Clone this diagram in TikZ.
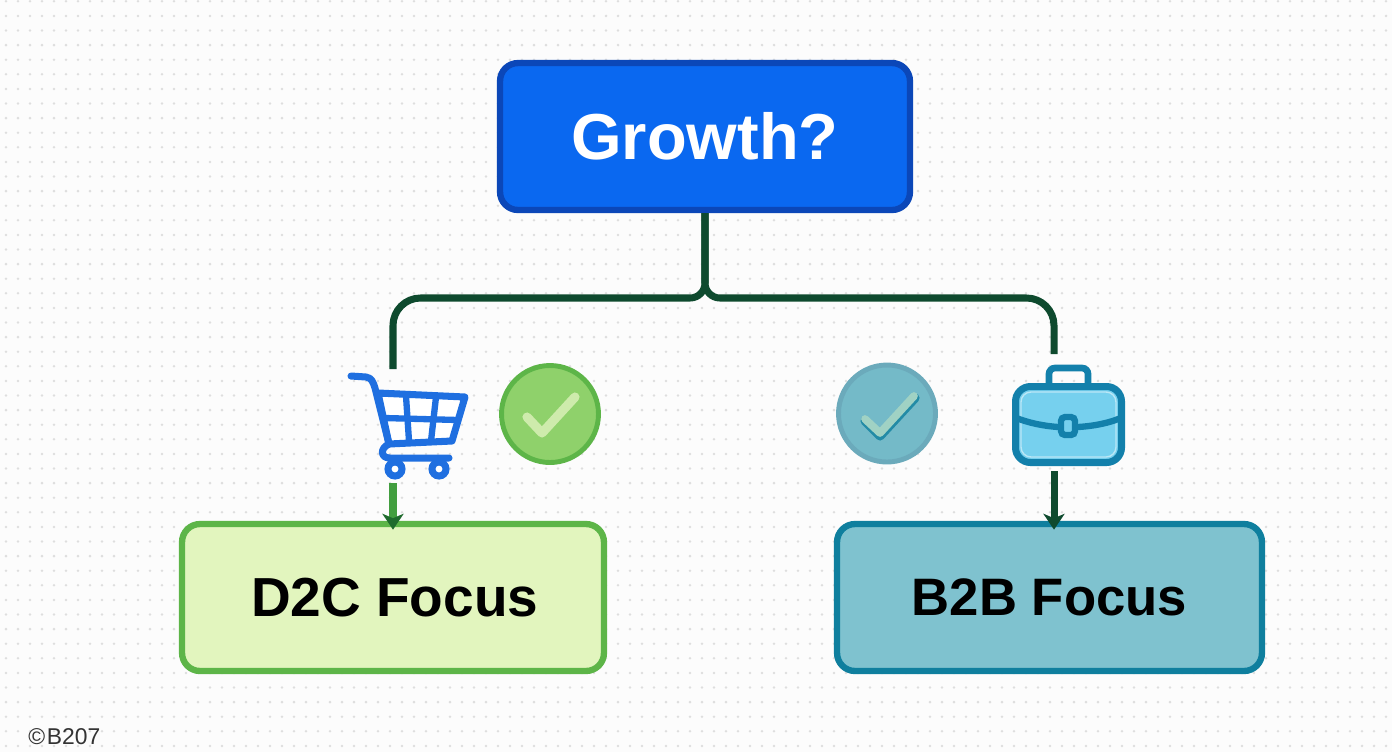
\documentclass[tikz,border=0pt]{standalone}
\usepackage{fontspec}
\setmainfont{Liberation Sans}
\usetikzlibrary{arrows.meta}
\definecolor{fond}{HTML}{FCFCFC}
\definecolor{point}{HTML}{DEDEDE}
\definecolor{bleu}{HTML}{0A68F0}
\definecolor{bleufonce}{HTML}{0B47B8}
\definecolor{panier}{HTML}{1F6FE0}
\definecolor{tronc}{HTML}{0E4A2E}
\definecolor{vertclair}{HTML}{E2F5BE}
\definecolor{vert}{HTML}{5DB548}
\definecolor{vertrond}{HTML}{8FD16B}
\definecolor{vertfleche}{HTML}{429E3F}
\definecolor{vertpointe}{HTML}{1F6B2D}
\definecolor{bleuvert}{HTML}{7FC2CF}
\definecolor{canard}{HTML}{0F7F9E}
\definecolor{rondb}{HTML}{74BAC8}
\definecolor{rondbord}{HTML}{6BAABB}
\definecolor{ciel}{HTML}{76D0EE}
\definecolor{mallette}{HTML}{1380AB}

\begin{document}
\begin{tikzpicture}[x=0.02cm, y=-0.02cm]
\tikzset{boite/.style={draw, rectangle, rounded corners=0.36cm, line width=3.6pt, minimum height=2.94cm},
  rond/.style={draw, circle, line width=2.8pt, minimum size=1.94cm},
  trait/.style={color=tronc, line width=4pt},
  coche/.style={line width=5.2pt, line cap=round, line join=round}}
\useasboundingbox (0, 0) rectangle (1392, 752);
\fill[fond] (0, 0) rectangle (1392, 752);
\foreach \i in {0,...,115}
  \foreach \j in {0,...,51}
    \fill[point] (6 + 12*\i, 1.3 + 14.6*\j) circle (1.4);

\node[boite, fill=bleu, draw=bleufonce, minimum width=8.2cm, text=white] (racine) at (705, 136.5) {\fontsize{37}{40}\selectfont\bfseries Growth?};
\node[boite, fill=vertclair, draw=vert, minimum width=8.44cm] (dtc) at (393, 597.5) {\kern2pt\fontsize{31.3}{36}\selectfont\bfseries D2C Focus};
\node[boite, fill=bleuvert, draw=canard, minimum width=8.5cm] (btb) at (1049.5, 597.5) {\fontsize{30}{36}\selectfont\bfseries B2B Focus};
\node[rond, fill=vertrond, draw=vert] (okd) at (550, 414) {};
\node[rond, fill=rondb, draw=rondbord] (okb) at (887, 413.5) {};
\node[anchor=west, inner sep=0pt, text=black!80] (copyr) at (28, 737) {\fontsize{13}{14}\selectfont ©\kern1pt B207};

\coordinate (fourche) at (705, 298);
\coordinate (panierh) at (393, 369);
\coordinate (panierb) at (393, 483);
\coordinate (malletteh) at (1054, 354);
\coordinate (malletteb) at (1054, 471);

\draw[trait] (racine.south) [rounded corners=0.3cm] -- (fourche) [rounded corners=0.55cm] -| (panierh);
\draw[trait] (racine.south) [rounded corners=0.3cm] -- (fourche) [rounded corners=0.55cm] -| (malletteh);
\draw[color=vertfleche, line width=4pt, -{Stealth[length=9pt, width=12pt, inset=2.5pt, color=vertpointe]}, shorten >=-5pt] (panierb) -- (dtc.north);
\draw[trait, -{Stealth[length=9pt, width=12pt, inset=2.5pt]}, shorten >=-5pt] (malletteb) -- (btb.north -| malletteb);

\draw[coche, color=vertclair!85!vert] (527, 417) -- (542, 433) -- (575, 397);
\draw[coche, color=canard!80!rondb] (865, 421) -- (880, 436) -- (915, 398);
\draw[coche, color=rondb!60!vertclair, line width=4.4pt] (865, 419) -- (880, 433) -- (914, 396);

\draw[color=panier, line width=4pt, line cap=round, line join=round, fill=white] (378, 393) -- (465, 397) -- (452, 441) -- (389, 444) -- cycle;
\draw[color=panier, line width=4pt, line cap=round, line join=round] (351, 376) -- (366, 377) .. controls (372, 378) and (373, 382) .. (375, 388) -- (389, 444) .. controls (380, 448) and (380, 458) .. (390, 458) -- (449, 458);
\draw[color=panier, line width=3.6pt] (384, 418) -- (458, 420);
\draw[color=panier, line width=3.6pt] (406, 396) -- (409, 441);
\draw[color=panier, line width=3.6pt] (436, 397) -- (431, 441);
\draw[color=panier, line width=4pt, fill=white] (395, 469) circle (7);
\draw[color=panier, line width=4pt, fill=white] (439, 469) circle (7);

\draw[color=mallette, line width=3.8pt, rounded corners=0.12cm] (1049, 385) -- (1049, 368) -- (1088, 368) -- (1088, 385);
\draw[color=mallette, line width=4pt, fill=ciel, rounded corners=0.3cm] (1015.5, 386.5) rectangle (1121.5, 462.5);
\draw[color=ciel!50!white, line width=0.8pt, rounded corners=0.2cm] (1021, 392) rectangle (1116, 457);
\draw[color=mallette, line width=3.6pt] (1014, 417) .. controls (1028, 423) and (1044, 426) .. (1058, 427);
\draw[color=mallette, line width=3.6pt] (1078, 427) .. controls (1094, 426) and (1110, 423) .. (1123, 417);
\draw[color=mallette, line width=3.6pt, fill=ciel, rounded corners=0.08cm] (1061, 417) rectangle (1075, 435);
\end{tikzpicture}
\end{document}
